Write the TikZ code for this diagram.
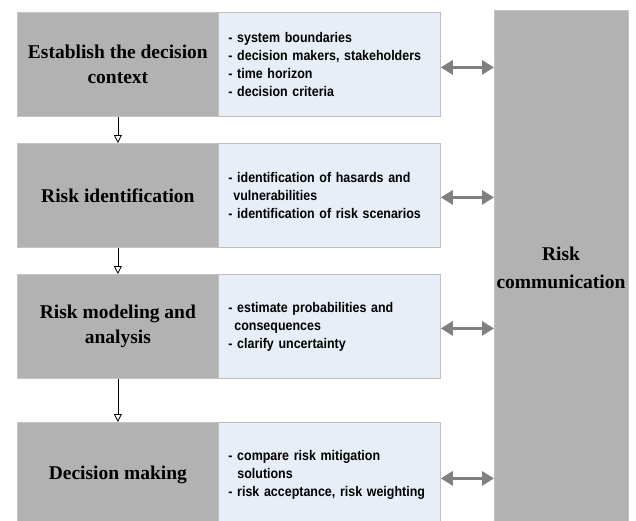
\documentclass[tikz,border=0pt]{standalone}
\usepackage{fontspec}
\setmainfont{Liberation Serif}
\newfontfamily\narrowsans{Liberation Sans}[FakeStretch=0.89]
\usetikzlibrary{arrows.meta}
\definecolor{boxgray}{RGB}{178,178,178}
\definecolor{boxedge}{RGB}{196,196,196}
\definecolor{lightblue}{RGB}{232,238,247}
\definecolor{blueedge}{RGB}{190,190,190}
\definecolor{arrowgray}{RGB}{128,128,128}
\tikzset{
  graybox/.style={rectangle, anchor=north west, fill=boxgray, draw=boxedge, line width=0.8pt,
    minimum width=201pt, minimum height=104pt, inner sep=0pt, align=center,
    font=\fontsize{19.5}{25}\selectfont\bfseries},
  bluebox/.style={rectangle, anchor=north west, fill=lightblue, draw=blueedge, line width=0.8pt,
    minimum width=222pt, minimum height=104pt, inner ysep=0pt, inner xsep=9.5pt,
    text width=202pt, align=left,
    font={\narrowsans\fontsize{14}{18}\selectfont\bfseries}},
  commbox/.style={rectangle, anchor=north west, fill=boxgray, draw=boxedge, line width=0.8pt,
    minimum width=134pt, minimum height=520pt, inner sep=0pt},
  commarrow/.style={draw=arrowgray, line width=3.5pt,
    {Triangle[length=12pt,width=14pt]}-{Triangle[length=12pt,width=14pt]}},
  flowarrow/.style={draw=black, line width=0.8pt, -{Triangle[open,length=8pt,width=8pt,fill=white]}},
  commtext/.style={align=center, font=\fontsize{19.5}{28}\selectfont\bfseries}
}
\begin{document}
\begin{tikzpicture}[x=1pt,y=-1pt]
\useasboundingbox (0,0) rectangle (636,520);
\clip (0,0) rectangle (636,520);
\fill[white] (0,0) rectangle (636,520);

\node[commbox] (rc) at (494,10) {};
\node[commtext] (rct) at (561,268) {Risk\\communication};

\node[graybox] (g1) at (17,12) {Establish the decision\\context};
\node[bluebox] (b1) at (218,12) {- system boundaries\\- decision makers, stakeholders\\- time horizon\\- decision criteria};

\node[graybox] (g2) at (17,143) {Risk identification};
\node[bluebox] (b2) at (218,143) {- identification of hasards and\\\hspace*{5pt}vulnerabilities\\- identification of risk scenarios};

\node[graybox] (g3) at (17,274) {Risk modeling and\\analysis};
\node[bluebox] (b3) at (218,274) {- estimate probabilities and\\\hspace*{6pt}consequences\\- clarify uncertainty};

\node[graybox] (g4) at (17,422) {Decision making};
\node[bluebox] (b4) at (218,422) {- compare risk mitigation\\\hspace*{9pt}solutions\\- risk acceptance, risk weighting};

\draw[flowarrow] (g1.south) -- (g2.north);
\draw[flowarrow] (g2.south) -- (g3.north);
\draw[flowarrow] (g3.south) -- (g4.north);

\draw[commarrow] ([yshift=-3pt]b1.east) -- ([yshift=-3pt]b1.east -| rc.west);
\draw[commarrow] ([yshift=-2pt]b2.east) -- ([yshift=-2pt]b2.east -| rc.west);
\draw[commarrow] ([yshift=-2pt]b3.east) -- ([yshift=-2pt]b3.east -| rc.west);
\draw[commarrow] ([yshift=-4pt]b4.east) -- ([yshift=-4pt]b4.east -| rc.west);
\end{tikzpicture}
\end{document}
